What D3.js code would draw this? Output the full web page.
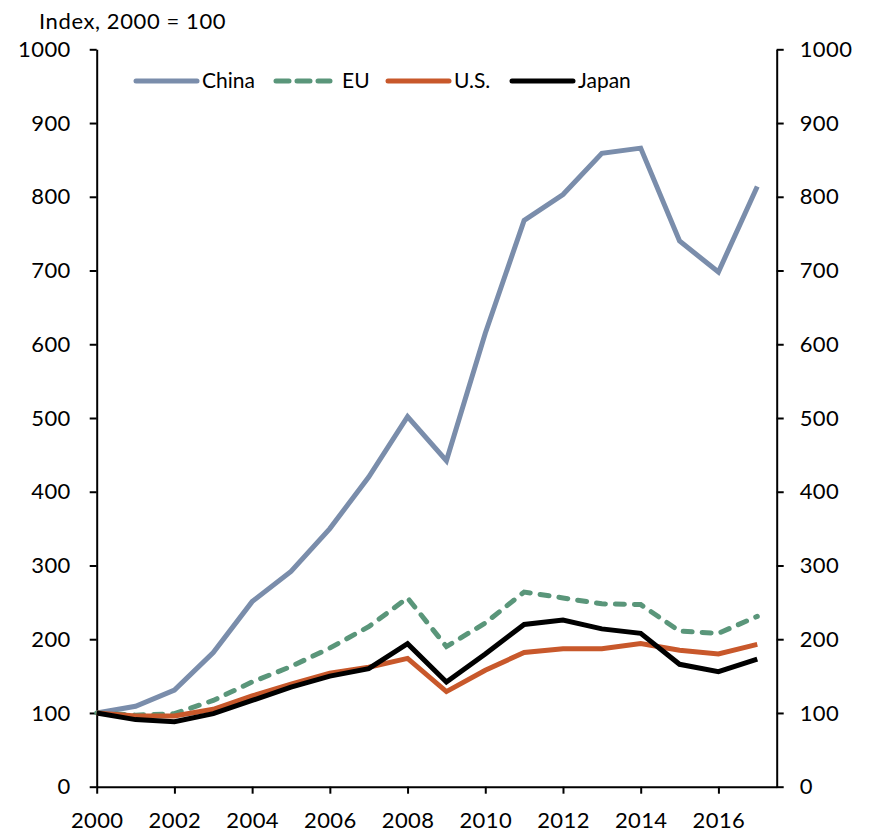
<!DOCTYPE html>
<html>
<head>
<meta charset="utf-8">
<script src="https://cdn.jsdelivr.net/npm/d3@7"></script>
<style>
  body { margin: 0; background: #fff; }
  text { font-family: Lato, "Open Sans", sans-serif; fill: #000; }
</style>
</head>
<body>
<div id="chart"></div>
<script>
// data, index 2000 = 100
var years = [2000, 2001, 2002, 2003, 2004, 2005, 2006, 2007, 2008, 2009, 2010, 2011, 2012, 2013, 2014, 2015, 2016, 2017];
var china = [100, 109, 131, 182, 251, 292, 350, 420, 502, 442, 615, 768, 803, 859, 866, 740, 698, 814];
var eu    = [100, 97, 99, 117, 142, 163, 188, 217, 256, 190, 222, 264, 256, 248, 247, 211, 208, 231];
var us    = [100, 96, 96, 105, 123, 139, 154, 162, 174, 129, 158, 182, 187, 187, 194, 185, 180, 193];
var japan = [100, 91, 88, 99, 117, 135, 150, 160, 194, 142, 180, 220, 226, 214, 208, 166, 156, 173];
var yTicks = [0, 100, 200, 300, 400, 500, 600, 700, 800, 900, 1000];
var xTicks = [2000, 2002, 2004, 2006, 2008, 2010, 2012, 2014, 2016];

var series = [
    {name: "China", values: china, color: "#7a8dab", dash: null},
    {name: "EU", values: eu, color: "#5a967a", dash: "9,10"},
    {name: "U.S.", values: us, color: "#c8582b", dash: null},
    {name: "Japan", values: japan, color: "#000000", dash: null}
];

var width = 869;
var height = 834;

var svg = d3.select("#chart")
    .append("svg")
    .attr("width", width)
    .attr("height", height);

var x = d3.scaleLinear().domain([2000, 2017.5]).range([96.7, 776.7]);
var y = d3.scaleLinear().domain([0, 1000]).range([786.7, 49.3]);

// axes
var leftAxis = svg.append("g")
    .attr("transform", "translate(" + x(2000) + ",0)")
    .call(d3.axisLeft(y).tickValues(yTicks).tickSize(7).tickSizeOuter(0).tickFormat(d3.format("d")));

var rightAxis = svg.append("g")
    .attr("transform", "translate(" + x(2017.5) + ",0)")
    .call(d3.axisRight(y).tickValues(yTicks).tickSize(7).tickSizeOuter(0).tickFormat(d3.format("d")));

var bottomAxis = svg.append("g")
    .attr("transform", "translate(0," + y(0) + ")")
    .call(d3.axisBottom(x).tickValues(xTicks).tickSize(7).tickSizeOuter(0).tickFormat(d3.format("d")));

svg.selectAll(".domain, .tick line")
    .attr("stroke", "#000")
    .attr("stroke-width", 2);

svg.selectAll(".tick text")
    .style("font-size", "22px")
    .style("letter-spacing", "0.4px")
    .attr("fill", "#000");

leftAxis.selectAll(".tick text").attr("x", -26);
rightAxis.selectAll(".tick text").attr("x", 23);
bottomAxis.selectAll(".tick text").attr("y", 0).attr("dy", "1.9em");

// lines
var line = d3.line()
    .x(function(d, i){ return x(years[i]); })
    .y(function(d){ return y(d); });

svg.selectAll(".series")
    .data(series)
    .enter().append("path")
    .attr("class", "series")
    .attr("d", function(d){ return line(d.values); })
    .attr("fill", "none")
    .attr("stroke", function(d){ return d.color; })
    .attr("stroke-width", 5)
    .attr("stroke-linejoin", "miter")
    .attr("stroke-dasharray", function(d){ return d.dash; })
    .attr("stroke-linecap", function(d){ return d.dash ? "round" : "butt"; });

// title
svg.append("text")
    .attr("x", 39)
    .attr("y", 29)
    .style("font-size", "22px")
    .style("letter-spacing", "0.6px")
    .text("Index, 2000 = 100");

// legend
var legendX = [136, 276, 388, 512];
var legend = svg.selectAll(".legend")
    .data(series)
    .enter().append("g")
    .attr("class", "legend")
    .attr("transform", function(d, i){ return "translate(" + legendX[i] + ",81)"; });

legend.append("line")
    .attr("x1", 0)
    .attr("x2", function(d){ return d.dash ? 54 : 61; })
    .attr("stroke", function(d){ return d.color; })
    .attr("stroke-width", 5)
    .attr("stroke-linecap", "round")
    .attr("stroke-dasharray", function(d){ return d.dash ? "13,8" : null; });

legend.append("text")
    .attr("x", 66)
    .attr("dy", "0.35em")
    .style("font-size", "21px")
    .text(function(d){ return d.name; });
</script>
</body>
</html>
